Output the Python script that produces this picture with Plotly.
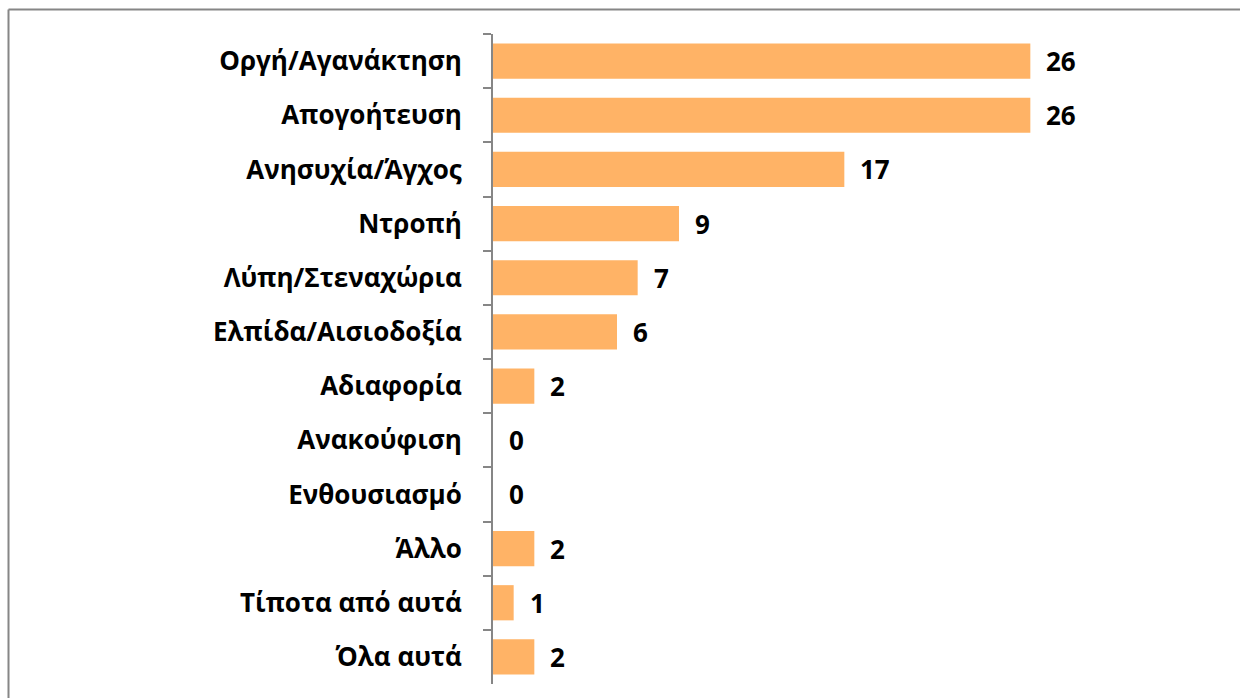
import plotly.graph_objects as go

categories = ["Οργή/Αγανάκτηση", "Απογοήτευση", "Ανησυχία/Άγχος", "Ντροπή",
              "Λύπη/Στεναχώρια", "Ελπίδα/Αισιοδοξία", "Αδιαφορία", "Ανακούφιση",
              "Ενθουσιασμό", "Άλλο", "Τίποτα από αυτά", "Όλα αυτά"]
values = [26, 26, 17, 9, 7, 6, 2, 0, 0, 2, 1, 2]

W, H = 1240, 698
ml, mt = 493, 34
pw = 620
ph = 684 - 34
mr = W - ml - pw
mb = H - mt - ph

FONT = "Open Sans"
FS = 26
fig = go.Figure()
fig.add_trace(go.Bar(
    y=categories, x=values, orientation="h",
    marker=dict(color="#FFB366", line=dict(width=0)),
    hoverinfo="skip",
))

for c, v in zip(categories, values):
    fig.add_annotation(x=v, y=c, xref="x", yref="y", text=str(v),
                       showarrow=False, xanchor="left", xshift=14,
                       font=dict(family=FONT, size=FS, color="#000000", weight="bold"))

# chart-area border (top and left edges visible; right/bottom run off the page)
bx0 = (8.5 - ml) / pw
by1 = 1 + (mt - 9.5) / ph
fig.add_shape(type="line", xref="paper", yref="paper",
              x0=bx0, x1=(W + 5 - ml) / pw, y0=by1, y1=by1,
              line=dict(color="#868686", width=2), layer="below")
fig.add_shape(type="line", xref="paper", yref="paper",
              x0=bx0, x1=bx0, y0=by1, y1=-(mb + 5) / ph,
              line=dict(color="#868686", width=2), layer="below")

fig.update_layout(
    width=W, height=H,
    margin=dict(l=ml, r=mr, t=mt, b=mb),
    paper_bgcolor="white", plot_bgcolor="white",
    bargap=0.35, showlegend=False,
    xaxis=dict(range=[0, 30], visible=False, fixedrange=True),
    yaxis=dict(autorange="reversed", type="category",
               showline=True, linecolor="#868686", linewidth=2,
               ticks="outside", tickson="boundaries", ticklen=8, tickcolor="#868686", tickwidth=2,
               ticklabelstandoff=24,
               tickfont=dict(family=FONT, size=FS, color="#000000", weight="bold"),
               showgrid=False, zeroline=False, fixedrange=True),
    font=dict(family=FONT, size=FS, color="#000000", weight="bold"),
)
fig.write_html(
    "out.html",
    config={"displayModeBar": False},
    post_script=(
        "document.documentElement.style.overflow='hidden';"
        "document.documentElement.style.scrollbarWidth='none';"
        "document.body.style.margin='0';"
        "document.body.style.overflow='hidden';"
    ),
)
